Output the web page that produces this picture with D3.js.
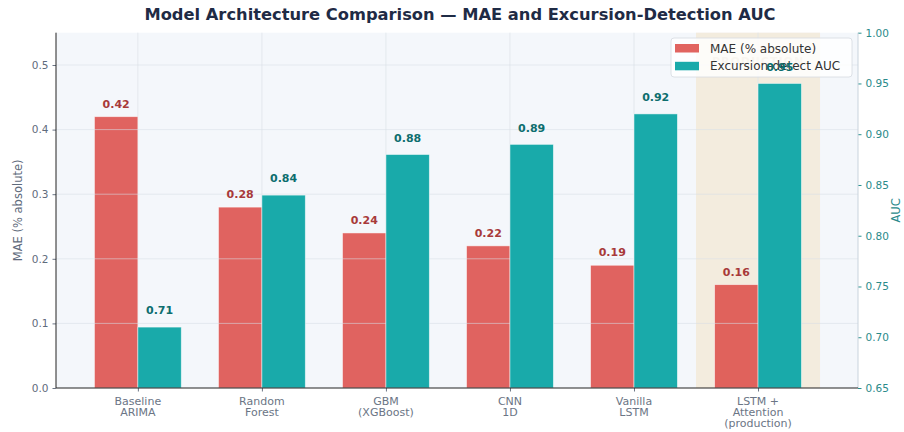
<!DOCTYPE html>
<html>
<head>
<meta charset="utf-8">
<script src="https://cdn.jsdelivr.net/npm/d3@7"></script>
<style>
  body { margin: 0; background: #ffffff; }
  svg { display: block; font-family: "DejaVu Sans", sans-serif; }
</style>
</head>
<body>
<svg id="chart" width="904" height="432"></svg>
<script>
// Model comparison data
const models = [
  ["Baseline", "ARIMA"],
  ["Random", "Forest"],
  ["GBM", "(XGBoost)"],
  ["CNN", "1D"],
  ["Vanilla", "LSTM"],
  ["LSTM +", "Attention", "(production)"]
];
const maeValues = [0.42, 0.28, 0.24, 0.22, 0.19, 0.16];
const aucValues = [0.71, 0.84, 0.88, 0.89, 0.92, 0.95];
const maeTicks = [0.0, 0.1, 0.2, 0.3, 0.4, 0.5];
const aucTicks = [0.65, 0.70, 0.75, 0.80, 0.85, 0.90, 0.95, 1.00];
const highlightIndex = 5;

const svg = d3.select("#chart");
const plotL = 56, plotR = 858, plotT = 32.7, plotB = 388;
const barW = 0.35;

const x = d3.scaleLinear().domain([-0.66, 5.806]).range([plotL, plotR]);
const yL = d3.scaleLinear().domain([0, 0.55]).range([plotB, plotT]);
const yR = d3.scaleLinear().domain([0.65, 1.00]).range([plotB, plotT]);

const redFill = "#dc4a46", tealFill = "#14a8a8";

// plot background
svg.append("rect").attr("x", plotL).attr("y", plotT)
  .attr("width", plotR - plotL).attr("height", plotB - plotT).attr("fill", "#f4f7fb");

// highlighted production column
svg.append("rect")
  .attr("x", x(highlightIndex - 0.5)).attr("y", plotT)
  .attr("width", x(highlightIndex + 0.5) - x(highlightIndex - 0.5))
  .attr("height", plotB - plotT).attr("fill", "#f3ecde");

svg.append("text")
  .attr("x", x(highlightIndex)).attr("y", 65)
  .attr("text-anchor", "middle").attr("font-size", 11).attr("font-weight", "bold")
  .attr("letter-spacing", 1).attr("fill", "#b89a68").attr("opacity", 0.45)
  .text("PRODUCTION");

// vertical grid at category centres
svg.append("g").selectAll("line").data(models).join("line")
  .attr("x1", (d, i) => x(i)).attr("x2", (d, i) => x(i))
  .attr("y1", plotT).attr("y2", plotB)
  .attr("stroke", "#dfe4ea").attr("stroke-width", 0.8);

// MAE bars
svg.append("g").selectAll("rect").data(maeValues).join("rect")
  .attr("x", (d, i) => x(i - barW)).attr("y", d => yL(d))
  .attr("width", x(barW) - x(0)).attr("height", d => plotB - yL(d))
  .attr("fill", redFill).attr("fill-opacity", 0.86)
  .attr("stroke", "#ffffff").attr("stroke-opacity", 0.6).attr("stroke-width", 0.8);

// horizontal grid from MAE axis
svg.append("g").selectAll("line").data(maeTicks.slice(1)).join("line")
  .attr("x1", plotL).attr("x2", plotR)
  .attr("y1", d => yL(d)).attr("y2", d => yL(d))
  .attr("stroke", "#d8dee6").attr("stroke-opacity", 0.7).attr("stroke-width", 0.8);

// MAE value labels
svg.append("g").selectAll("text").data(maeValues).join("text")
  .attr("x", (d, i) => x(i - barW / 2)).attr("y", d => yL(d + 0.01) - 2.5)
  .attr("text-anchor", "middle").attr("font-size", 11).attr("font-weight", "bold")
  .attr("fill", "#a83a3a").text(d => d.toFixed(2));

// legend (belongs to the MAE layer, AUC layer draws over it)
const legend = svg.append("g").attr("transform", "translate(671,38)");
legend.append("rect").attr("width", 181).attr("height", 39).attr("rx", 3)
  .attr("fill", "#ffffff").attr("fill-opacity", 0.82)
  .attr("stroke", "#d6dbe1").attr("stroke-width", 0.8);
const legendItems = [
  { label: "MAE (% absolute)", color: redFill, op: 0.86 },
  { label: "Excursion-detect AUC", color: tealFill, op: 0.98 }
];
legendItems.forEach((it, i) => {
  legend.append("rect").attr("x", 4).attr("y", 6 + i * 17.8).attr("width", 24).attr("height", 8.5)
    .attr("fill", it.color).attr("fill-opacity", it.op);
  legend.append("text").attr("x", 39).attr("y", 14.6 + i * 17.8)
    .attr("font-size", 12).attr("fill", "#333").text(it.label);
});

// AUC bars
svg.append("g").selectAll("rect").data(aucValues).join("rect")
  .attr("x", (d, i) => x(i)).attr("y", d => yR(d))
  .attr("width", x(barW) - x(0)).attr("height", d => plotB - yR(d))
  .attr("fill", tealFill).attr("fill-opacity", 0.98)
  .attr("stroke", "#ffffff").attr("stroke-opacity", 0.6).attr("stroke-width", 0.8);

// AUC value labels
svg.append("g").selectAll("text").data(aucValues).join("text")
  .attr("x", (d, i) => x(i + barW / 2)).attr("y", d => yR(d + 0.01) - 2.5)
  .attr("text-anchor", "middle").attr("font-size", 11).attr("font-weight", "bold")
  .attr("fill", "#0d6e6e").text(d => d.toFixed(2));

// axes
const axL = d3.axisLeft(yL).tickValues(maeTicks).tickFormat(d3.format(".1f")).tickSize(3.5).tickPadding(4);
const gL = svg.append("g").attr("transform", `translate(${plotL},0)`).call(axL);
gL.select(".domain").remove();
gL.selectAll("line").attr("stroke", "#6b7585");
gL.selectAll("text").attr("fill", "#5f6b7c").attr("font-size", 10.5).attr("font-family", "DejaVu Sans");

const axR = d3.axisRight(yR).tickValues(aucTicks).tickFormat(d3.format(".2f")).tickSize(3.5).tickPadding(4);
const gR = svg.append("g").attr("transform", `translate(${plotR},0)`).call(axR);
gR.select(".domain").remove();
gR.selectAll("line").attr("stroke", "#2a8f8f");
gR.selectAll("text").attr("fill", "#2a8a8a").attr("font-size", 10.5).attr("font-family", "DejaVu Sans");

const axB = d3.axisBottom(x).tickValues(d3.range(models.length)).tickFormat("").tickSize(3.5);
const gB = svg.append("g").attr("transform", `translate(0,${plotB})`).call(axB);
gB.select(".domain").remove();
gB.selectAll("line").attr("stroke", "#6b7585");

// category labels (multi-line)
const catLabels = svg.append("g").selectAll("text").data(models).join("text")
  .attr("x", (d, i) => x(i)).attr("y", 405)
  .attr("text-anchor", "middle").attr("font-size", 11).attr("fill", "#6b7585");
catLabels.selectAll("tspan").data(d => d).join("tspan")
  .attr("x", function() { return d3.select(this.parentNode).attr("x"); })
  .attr("dy", (d, j) => j === 0 ? 0 : 11.2).text(d => d);

// spines
svg.append("line").attr("x1", plotL).attr("x2", plotL).attr("y1", plotT).attr("y2", plotB)
  .attr("stroke", "#222").attr("stroke-width", 1);
svg.append("line").attr("x1", plotR).attr("x2", plotR).attr("y1", plotT).attr("y2", plotB)
  .attr("stroke", "#c9d3dc").attr("stroke-width", 1);
svg.append("line").attr("x1", plotL).attr("x2", plotR).attr("y1", plotB).attr("y2", plotB)
  .attr("stroke", "#222").attr("stroke-width", 1);

// axis titles
svg.append("text").attr("transform", `translate(22,${(plotT + plotB) / 2}) rotate(-90)`)
  .attr("text-anchor", "middle").attr("font-size", 11.5).attr("fill", "#5f6b7c")
  .text("MAE (% absolute)");
svg.append("text").attr("transform", `translate(900,${(plotT + plotB) / 2}) rotate(-90)`)
  .attr("text-anchor", "middle").attr("font-size", 11.5).attr("fill", "#2a8a8a")
  .text("AUC");

// title
svg.append("text").attr("x", 460).attr("y", 19.5)
  .attr("text-anchor", "middle").attr("font-size", 16.3).attr("font-weight", "bold")
  .attr("fill", "#1f2b45")
  .text("Model Architecture Comparison \u2014 MAE and Excursion-Detection AUC");
</script>
</body>
</html>
